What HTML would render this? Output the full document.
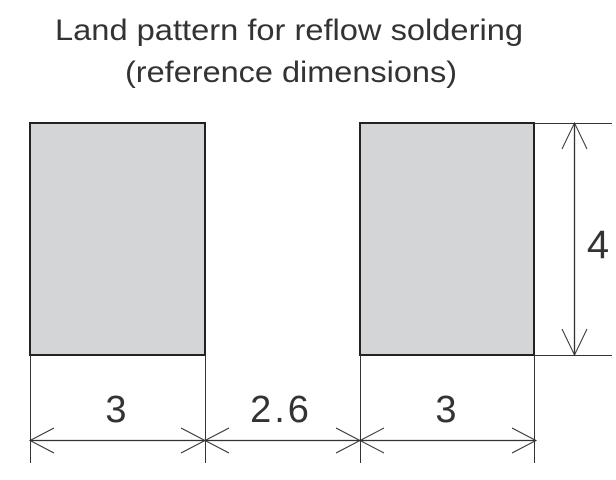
<!DOCTYPE html>
<html><head><style>html,body{margin:0;padding:0;background:#fff}svg{display:block}</style></head>
<body>
<svg width="616" height="480" viewBox="0 0 616 480" xmlns="http://www.w3.org/2000/svg">
<g font-family="Liberation Sans, sans-serif" fill="#333">
<text x="289" y="40" font-size="30" text-anchor="middle" textLength="468" lengthAdjust="spacingAndGlyphs">Land pattern for reflow soldering</text>
<text x="291" y="82" font-size="30" text-anchor="middle" textLength="332" lengthAdjust="spacingAndGlyphs">(reference dimensions)</text>
<text x="116" y="422" font-size="38" text-anchor="middle">3</text>
<text x="281" y="422" font-size="38" text-anchor="middle" letter-spacing="3">2.6</text>
<text x="446" y="422" font-size="38" text-anchor="middle">3</text>
<text x="598" y="258" font-size="40" text-anchor="middle">4</text>
</g>
<rect x="30" y="123" width="175" height="232" fill="#d4d5d7" stroke="#222" stroke-width="2"/>
<rect x="360" y="123" width="174" height="232" fill="#d4d5d7" stroke="#222" stroke-width="2"/>
<g stroke="#333" stroke-width="1" fill="none">
<line x1="30.5" y1="355" x2="30.5" y2="463"/>
<line x1="205.5" y1="355" x2="205.5" y2="463"/>
<line x1="360.5" y1="355" x2="360.5" y2="463"/>
<line x1="534.5" y1="355" x2="534.5" y2="463"/>
<line x1="30" y1="440.5" x2="536" y2="440.5" stroke-width="1.3"/>
<polyline points="54,428 30,440.5 54,453"/>
<polyline points="181,428 205,440.5 181,453"/>
<polyline points="229,428 205,440.5 229,453"/>
<polyline points="336,428 360,440.5 336,453"/>
<polyline points="384,428 360,440.5 384,453"/>
<polyline points="512,428 536,440.5 512,453"/>
<line x1="534" y1="123.5" x2="612" y2="123.5"/>
<line x1="534" y1="355.5" x2="612" y2="355.5"/>
<line x1="574.5" y1="123" x2="574.5" y2="355" stroke-width="1.3"/>
<polyline points="562,149 574.5,123 587,149"/>
<polyline points="562,329 574.5,355 587,329"/>
</g>
</svg>
</body></html>
